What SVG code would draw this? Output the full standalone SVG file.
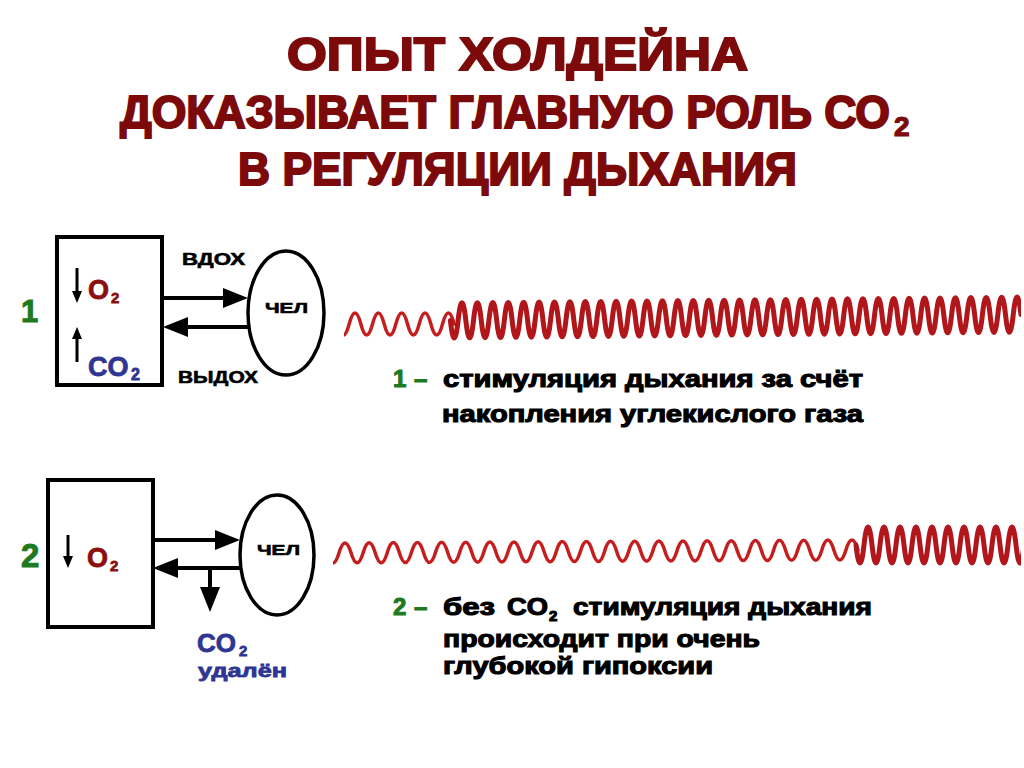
<svg xmlns="http://www.w3.org/2000/svg" width="1024" height="768" viewBox="0 0 1024 768">
<style>
text{font-family:"Liberation Sans",Arial,sans-serif;font-weight:bold}
.title{fill:#7d0a0a;stroke:#7d0a0a;stroke-width:2;font-size:46px}
.tsub{stroke-width:1.2;font-size:28px}
.desc{fill:#000;stroke:#000;stroke-width:1.1;font-size:24px}
.num{fill:#1e7a1e;stroke:#1e7a1e;stroke-width:1}
.lbl{fill:#000;stroke:#000;stroke-width:0.6}
.o2{fill:#8b0f0f;stroke:#8b0f0f;stroke-width:0.8}
.co2{fill:#2f3592;stroke:#2f3592;stroke-width:0.8}
.box{fill:#fff;stroke:#000;stroke-width:4}
.man{fill:#fff;stroke:#000;stroke-width:3.5}
.big{fill:none;stroke:#000;stroke-width:4}
.thin{fill:none;stroke:#000;stroke-width:3}
.ws{fill:none;stroke:#c41e1e;stroke-width:3.5;stroke-linejoin:round;stroke-linecap:round}
.wb{fill:none;stroke:#b0161a;stroke-width:5;stroke-linejoin:round;stroke-linecap:round}
</style>
<defs>
<marker id="hb" viewBox="0 0 25 20" refX="5" refY="10" markerWidth="25" markerHeight="20" markerUnits="userSpaceOnUse" orient="auto"><path d="M0,0 L25,10 L0,20 Z" fill="#000"/></marker>
<marker id="hs" viewBox="0 0 12 10" refX="2" refY="5" markerWidth="12" markerHeight="10" markerUnits="userSpaceOnUse" orient="auto"><path d="M0,0 L12,5 L0,10 Z" fill="#000"/></marker>
<clipPath id="c1"><rect x="344" y="270" width="677" height="90"/></clipPath>
<clipPath id="c2"><rect x="333" y="505" width="688" height="80"/></clipPath>
</defs>
<rect width="1024" height="768" fill="#fff"/>

<g id="title">
<text class="title" x="287" y="70" textLength="461" lengthAdjust="spacingAndGlyphs">ОПЫТ ХОЛДЕЙНА</text>
<text class="title" x="120" y="128"><tspan textLength="770" lengthAdjust="spacingAndGlyphs">ДОКАЗЫВАЕТ ГЛАВНУЮ РОЛЬ СО</tspan><tspan class="tsub" dx="4" dy="8">2</tspan></text>
<text class="title" x="238" y="185" textLength="559" lengthAdjust="spacingAndGlyphs">В РЕГУЛЯЦИИ ДЫХАНИЯ</text>
</g>

<g id="box1">
<text class="num" x="21" y="322" font-size="31">1</text>
<rect class="box" x="57" y="237" width="105" height="148"/>
<text class="o2" x="88" y="299" font-size="27">O</text>
<text class="o2" x="111" y="303" font-size="15">2</text>
<text class="co2" x="88" y="376" font-size="27">CO</text>
<text class="co2" x="131" y="380" font-size="16">2</text>
</g>
<g id="person1">
<ellipse class="man" cx="286" cy="313" rx="38" ry="62"/>
<text class="lbl" x="265" y="313" font-size="15" textLength="43" lengthAdjust="spacingAndGlyphs">ЧЕЛ</text>
</g>
<g id="labels1">
<text class="lbl" x="182" y="265" font-size="17" textLength="63" lengthAdjust="spacingAndGlyphs">ВДОХ</text>
<text class="lbl" x="178" y="383" font-size="17" textLength="80" lengthAdjust="spacingAndGlyphs">ВЫДОХ</text>
</g>

<g id="box2">
<text class="num" x="21" y="567" font-size="33">2</text>
<rect class="box" x="48" y="480" width="105" height="147"/>
<text class="o2" x="87" y="567" font-size="27">O</text>
<text class="o2" x="110" y="571" font-size="15">2</text>
</g>
<g id="person2">
<ellipse class="man" cx="277" cy="555" rx="37" ry="60"/>
<text class="lbl" x="257" y="555" font-size="15" textLength="43" lengthAdjust="spacingAndGlyphs">ЧЕЛ</text>
</g>
<g id="removed">
<text class="co2" x="197" y="652" font-size="26">CO</text>
<text class="co2" x="239" y="656" font-size="15">2</text>
<text class="co2" x="198" y="677" font-size="19" textLength="89" lengthAdjust="spacingAndGlyphs">удалён</text>
</g>

<g id="connectors">
<line class="big" x1="162" y1="298" x2="228" y2="298" marker-end="url(#hb)"/>
<line class="big" x1="248" y1="327" x2="183" y2="327" marker-end="url(#hb)"/>
<line class="thin" x1="77" y1="268" x2="77" y2="293" marker-end="url(#hs)"/>
<line class="thin" x1="77" y1="362" x2="77" y2="337" marker-end="url(#hs)"/>
<line class="big" x1="153" y1="540" x2="220" y2="540" marker-end="url(#hb)"/>
<line class="big" x1="240" y1="568" x2="173" y2="568" marker-end="url(#hb)"/>
<line class="big" x1="210" y1="568" x2="210" y2="592" marker-end="url(#hb)"/>
<line class="thin" x1="68" y1="535" x2="68" y2="558" marker-end="url(#hs)"/>
</g>

<g id="wave1" clip-path="url(#c1)">
<path class="ws" d="M337.5,324 q5.835,22 11.67,0 t11.67,0 t11.67,0 t11.67,0 t11.67,0 t11.67,0 t11.67,0 t11.67,0 t11.67,0 t11.67,0"/>
<path class="wb" d="M450.4,320.5 q3.855,35 7.71,-0.08 t7.71,-0.08 t7.71,-0.08 t7.71,-0.08 t7.71,-0.08 t7.71,-0.08 t7.71,-0.08 t7.71,-0.08 t7.71,-0.08 t7.71,-0.08 t7.71,-0.08 t7.71,-0.08 t7.71,-0.08 t7.71,-0.08 t7.71,-0.08 t7.71,-0.08 t7.71,-0.08 t7.71,-0.08 t7.71,-0.08 t7.71,-0.08 t7.71,-0.08 t7.71,-0.08 t7.71,-0.08 t7.71,-0.08 t7.71,-0.08 t7.71,-0.08 t7.71,-0.08 t7.71,-0.08 t7.71,-0.08 t7.71,-0.08 t7.71,-0.08 t7.71,-0.08 t7.71,-0.08 t7.71,-0.08 t7.71,-0.08 t7.71,-0.08 t7.71,-0.08 t7.71,-0.08 t7.71,-0.08 t7.71,-0.08 t7.71,-0.08 t7.71,-0.08 t7.71,-0.08 t7.71,-0.08 t7.71,-0.08 t7.71,-0.08 t7.71,-0.08 t7.71,-0.08 t7.71,-0.08 t7.71,-0.08 t7.71,-0.08 t7.71,-0.08 t7.71,-0.08 t7.71,-0.08 t7.71,-0.08 t7.71,-0.08 t7.71,-0.08 t7.71,-0.08 t7.71,-0.08 t7.71,-0.08 t7.71,-0.08 t7.71,-0.08 t7.71,-0.08 t7.71,-0.08 t7.71,-0.08 t7.71,-0.08 t7.71,-0.08 t7.71,-0.08 t7.71,-0.08 t7.71,-0.08 t7.71,-0.08 t7.71,-0.08 t7.71,-0.08 t7.71,-0.08"/>
</g>

<g id="wave2" clip-path="url(#c2)">
<path class="ws" d="M326.9,553 q6.035,20 12.07,-0.07 t12.07,-0.07 t12.07,-0.07 t12.07,-0.07 t12.07,-0.07 t12.07,-0.07 t12.07,-0.07 t12.07,-0.07 t12.07,-0.07 t12.07,-0.07 t12.07,-0.07 t12.07,-0.07 t12.07,-0.07 t12.07,-0.07 t12.07,-0.07 t12.07,-0.07 t12.07,-0.07 t12.07,-0.07 t12.07,-0.07 t12.07,-0.07 t12.07,-0.07 t12.07,-0.07 t12.07,-0.07 t12.07,-0.07 t12.07,-0.07 t12.07,-0.07 t12.07,-0.07 t12.07,-0.07 t12.07,-0.07 t12.07,-0.07 t12.07,-0.07 t12.07,-0.07 t12.07,-0.07 t12.07,-0.07 t12.07,-0.07 t12.07,-0.07 t12.07,-0.07 t12.07,-0.07 t12.07,-0.07 t12.07,-0.07 t12.07,-0.07 t12.07,-0.07 t12.07,-0.07 t12.07,-0.07"/>
<path class="wb" d="M856,545 q4,36 8,0 t8,0 t8,0 t8,0 t8,0 t8,0 t8,0 t8,0 t8,0 t8,0 t8,0 t8,0 t8,0 t8,0 t8,0 t8,0 t8,0 t8,0 t8,0 t8,0 t8,0"/>
</g>

<g id="desc1">
<text class="desc num" x="393" y="387">1</text>
<text class="desc num" x="414" y="387">–</text>
<text class="desc" x="443" y="387" textLength="420" lengthAdjust="spacingAndGlyphs">стимуляция дыхания за счёт</text>
<text class="desc" x="442" y="422" textLength="421" lengthAdjust="spacingAndGlyphs">накопления углекислого газа</text>
</g>
<g id="desc2">
<text class="desc num" x="393" y="615">2</text>
<text class="desc num" x="414" y="615">–</text>
<text class="desc" x="443" y="615" textLength="52" lengthAdjust="spacingAndGlyphs">без</text>
<text class="desc" x="507" y="615" textLength="41" lengthAdjust="spacingAndGlyphs">CO</text>
<text class="desc" x="549" y="621" style="font-size:15px">2</text>
<text class="desc" x="573" y="615" textLength="299" lengthAdjust="spacingAndGlyphs">стимуляция дыхания</text>
<text class="desc" x="443" y="647" textLength="317" lengthAdjust="spacingAndGlyphs">происходит при очень</text>
<text class="desc" x="443" y="674" textLength="270" lengthAdjust="spacingAndGlyphs">глубокой гипоксии</text>
</g>
</svg>
